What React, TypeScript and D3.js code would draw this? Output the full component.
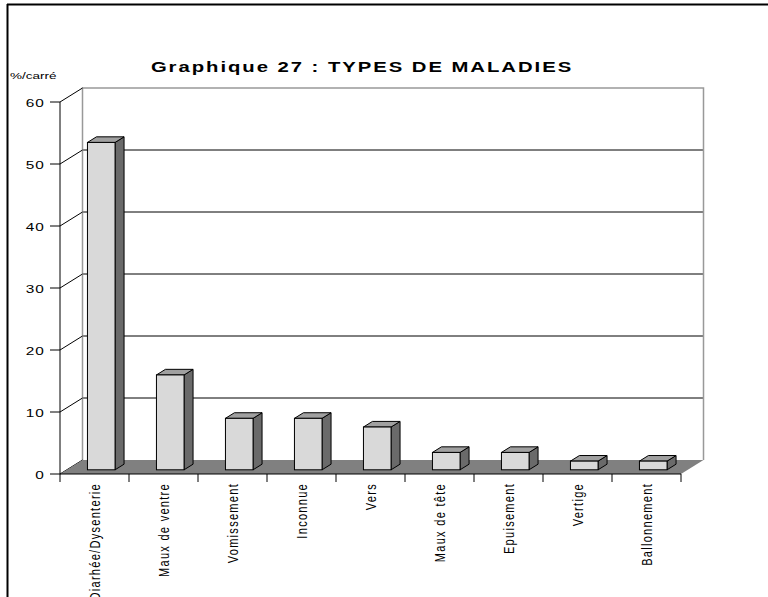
import React from "react";
import * as d3 from "d3";

const categories: string[] = [
  "Diarhée/Dysenterie",
  "Maux de ventre",
  "Vomissement",
  "Inconnue",
  "Vers",
  "Maux de tête",
  "Epuisement",
  "Vertige",
  "Ballonnement",
];
const values: number[] = [52.8, 15.3, 8.3, 8.3, 6.9, 2.8, 2.8, 1.4, 1.4];
const yTicks: number[] = [0, 10, 20, 30, 40, 50, 60];
const title = "Graphique 27 : TYPES DE MALADIES";
const yUnit = "%/carré";

const W = 768;
const H = 597;
const FONT = "'Liberation Sans', Arial, Helvetica, sans-serif";
const SX = 1.4; // horizontal glyph stretch

export default function App() {
  const x0 = 60;
  const x1 = 681;
  const yBottom = 474;
  const yTop = 102;
  const DX = 22.5;
  const DY = -14;

  const x = d3
    .scaleBand<string>()
    .domain(categories)
    .range([x0, x1])
    .paddingInner(0.6)
    .paddingOuter(0.3);
  const step = x.step();
  const y = d3.scaleLinear().domain([0, 60]).range([yBottom, yTop]);

  const fr = 0.3; // bar front depth fraction
  const bk = 0.7; // bar back depth fraction

  const floor = [
    [x0, yBottom],
    [x1, yBottom],
    [x1 + DX, yBottom + DY],
    [x0 + DX, yBottom + DY],
  ];
  const line = d3.line();

  return (
    <svg
      width={W}
      height={H}
      style={{ position: "absolute", left: 0, top: 0, background: "#fff" }}
    >
      <rect x={0} y={0} width={W} height={H} fill="#fff" />
      {/* outer frame */}
      <line x1={7} y1={4.5} x2={W} y2={4.5} stroke="#000" strokeWidth={2} />
      <line x1={7.5} y1={4} x2={7.5} y2={H} stroke="#000" strokeWidth={2} />

      {/* title */}
      <g transform={`translate(362,72) scale(${SX},1)`}>
        <text
          textAnchor="middle"
          fontFamily={FONT}
          fontWeight="bold"
          fontSize={14.5}
          letterSpacing={1.4}
          fill="#000"
        >
          {title}
        </text>
      </g>
      <g transform={`translate(10,79) scale(1.5,1)`}>
        <text fontFamily={FONT} fontSize={9} fill="#000">
          {yUnit}
        </text>
      </g>

      {/* back wall gridlines */}
      {yTicks.slice(1, -1).map((t) => (
        <line
          key={"g" + t}
          x1={x0 + DX}
          x2={x1 + DX}
          y1={y(t) + DY}
          y2={y(t) + DY}
          stroke="#000"
          strokeWidth={1}
        />
      ))}
      {/* back wall border */}
      <path
        d={`M${x0 + DX},${yBottom + DY}V${yTop + DY}H${x1 + DX}V${yBottom + DY}`}
        fill="none"
        stroke="#999"
        strokeWidth={1.5}
      />
      {/* side wall diagonals */}
      {yTicks.map((t) => (
        <line
          key={"d" + t}
          x1={x0}
          y1={y(t)}
          x2={x0 + DX}
          y2={y(t) + DY}
          stroke="#000"
          strokeWidth={1}
        />
      ))}

      {/* floor */}
      <path d={line(floor as [number, number][]) + "Z"} fill="#808080" stroke="none" />

      {/* bars */}
      {categories.map((c, i) => {
        const v = values[i];
        const bx = (x(c) as number) + fr * DX;
        const bw = x.bandwidth();
        const by0 = y(0) + fr * DY;
        const byT = y(v) + fr * DY;
        const ddx = (bk - fr) * DX;
        const ddy = (bk - fr) * DY;
        const top = [
          [bx, byT],
          [bx + ddx, byT + ddy],
          [bx + bw + ddx, byT + ddy],
          [bx + bw, byT],
        ];
        const side = [
          [bx + bw, byT],
          [bx + bw + ddx, byT + ddy],
          [bx + bw + ddx, by0 + ddy],
          [bx + bw, by0],
        ];
        return (
          <g key={c}>
            <path
              d={line(side as [number, number][]) + "Z"}
              fill="#6a6a6a"
              stroke="#000"
              strokeWidth={1}
              strokeLinejoin="round"
            />
            <path
              d={line(top as [number, number][]) + "Z"}
              fill="#a0a0a0"
              stroke="#000"
              strokeWidth={1}
              strokeLinejoin="round"
            />
            <rect
              x={bx}
              y={byT}
              width={bw}
              height={by0 - byT}
              fill="#d9d9d9"
              stroke="#000"
              strokeWidth={1}
            />
          </g>
        );
      })}

      {/* front axes */}
      <line x1={x0} y1={yBottom} x2={x1} y2={yBottom} stroke="#000" strokeWidth={1.2} />
      <line x1={x0} y1={yTop} x2={x0} y2={yBottom} stroke="#000" strokeWidth={1} />
      {yTicks.map((t) => (
        <g key={"yt" + t}>
          <line x1={50} x2={x0} y1={y(t)} y2={y(t)} stroke="#000" strokeWidth={1} />
          <g transform={`translate(45,${y(t) + 4.5}) scale(${SX},1)`}>
            <text
              textAnchor="end"
              fontFamily={FONT}
              fontSize={11}
              letterSpacing={0.8}
              fill="#000"
            >
              {t}
            </text>
          </g>
        </g>
      ))}
      {d3.range(categories.length + 1).map((k) => (
        <line
          key={"xt" + k}
          x1={x0 + k * step}
          x2={x0 + k * step}
          y1={yBottom}
          y2={yBottom + 8}
          stroke="#000"
          strokeWidth={1}
        />
      ))}
      {categories.map((c) => {
        const cx = (x(c) as number) + x.bandwidth() / 2;
        return (
          <g key={"xl" + c} transform={`translate(${cx + 5},483) rotate(-90) scale(1,${SX})`}>
            <text
              textAnchor="end"
              fontFamily={FONT}
              fontSize={11}
              letterSpacing={1.3}
              fill="#000"
            >
              {c}
            </text>
          </g>
        );
      })}
    </svg>
  );
}
